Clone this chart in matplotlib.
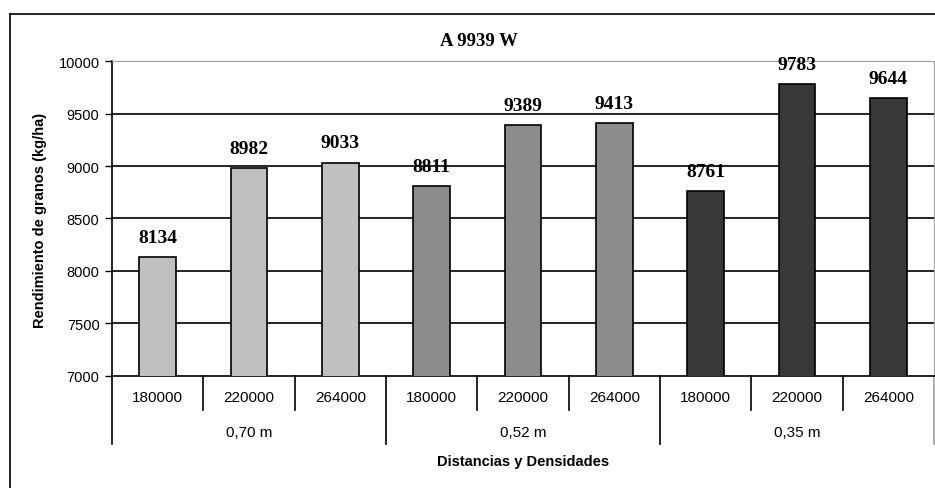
import matplotlib.pyplot as plt
from matplotlib.lines import Line2D

# rendimiento por distancia entre surcos y densidad
distancias = ['0,70 m', '0,52 m', '0,35 m']
densidades = ['180000', '220000', '264000']
rendimiento = [8134, 8982, 9033, 8811, 9389, 9413, 8761, 9783, 9644]
colores = ['#c0c0c0', '#8c8c8c', '#383838']

W, H = 935, 489
fig = plt.figure(figsize=(W / 100, H / 100), dpi=100)

# area del grafico en pixeles
px_l, px_r, px_t, px_b = 112, 934, 62, 377
ax = fig.add_axes([px_l / W, 1 - px_b / H, (px_r - px_l) / W, (px_b - px_t) / H])
ax_h = px_b - px_t

n = len(rendimiento)
x = list(range(n))
bar_cols = [colores[i // 3] for i in range(n)]
bars = ax.bar(x, rendimiento, width=0.4, color=bar_cols, edgecolor='black',
              linewidth=1.2, zorder=3)

ax.set_xlim(-0.5, n - 0.5)
ax.set_ylim(7000, 10000)
ax.set_yticks(range(7000, 10001, 500))
ax.tick_params(axis='y', direction='out', length=5, width=1, labelsize=10.5, pad=4)
for lab in ax.get_yticklabels():
    lab.set_family('Liberation Sans')
ax.set_xticks([])

for y in range(7500, 10000, 500):
    ax.axhline(y, color='black', linewidth=1.2, zorder=1)

ax.spines['top'].set_color('#a0a0a0')
ax.spines['right'].set_color('#a0a0a0')
ax.spines['left'].set_linewidth(1.2)
ax.spines['bottom'].set_linewidth(1.2)

# valores sobre las barras
for b, v in zip(bars, rendimiento):
    ax.annotate(f'{v}', (b.get_x() + b.get_width() / 2, v), xytext=(0, 8),
                textcoords='offset points', ha='center', va='bottom',
                family='Liberation Serif', fontweight='bold', fontsize=14)

# ejes de categorias en dos niveles
tr = ax.get_xaxis_transform()
short = -34 / ax_h
long_ = -68 / ax_h
for i in range(n + 1):
    xs = i - 0.5
    y1 = long_ if i % 3 == 0 else short
    col = '#a0a0a0' if i == n else 'black'
    ax.add_line(Line2D([xs, xs], [0, y1], transform=tr, color=col,
                       linewidth=1.2, clip_on=False))

for i, d in enumerate(densidades * 3):
    ax.text(i, -21 / ax_h, d, transform=tr, ha='center', va='center',
            fontsize=11, family='Liberation Sans')
for g, dist in enumerate(distancias):
    ax.text(3 * g + 1, -56 / ax_h, dist, transform=tr, ha='center', va='center',
            fontsize=11, family='Liberation Sans')

ax.text(0.5, -85 / ax_h, 'Distancias y Densidades', transform=ax.transAxes,
        ha='center', va='center', fontsize=10.5, fontweight='bold',
        family='Liberation Sans')
fig.text(40 / W, 1 - 220 / H, 'Rendimiento de granos (kg/ha)', rotation=90,
         ha='center', va='center', fontsize=10.5, fontweight='bold',
         family='Liberation Sans')
fig.text(479 / W, 1 - 42 / H, 'A 9939 W', ha='center', va='center',
         fontsize=13.5, fontweight='bold', family='Liberation Serif')

# marco exterior
fig.add_artist(Line2D([10 / W, 1], [1 - 15 / H, 1 - 15 / H],
                      transform=fig.transFigure, color='black', linewidth=1.2))
fig.add_artist(Line2D([10 / W, 10 / W], [1 - 15 / H, 0],
                      transform=fig.transFigure, color='black', linewidth=1.2))

fig.savefig('out.png', dpi=100)
